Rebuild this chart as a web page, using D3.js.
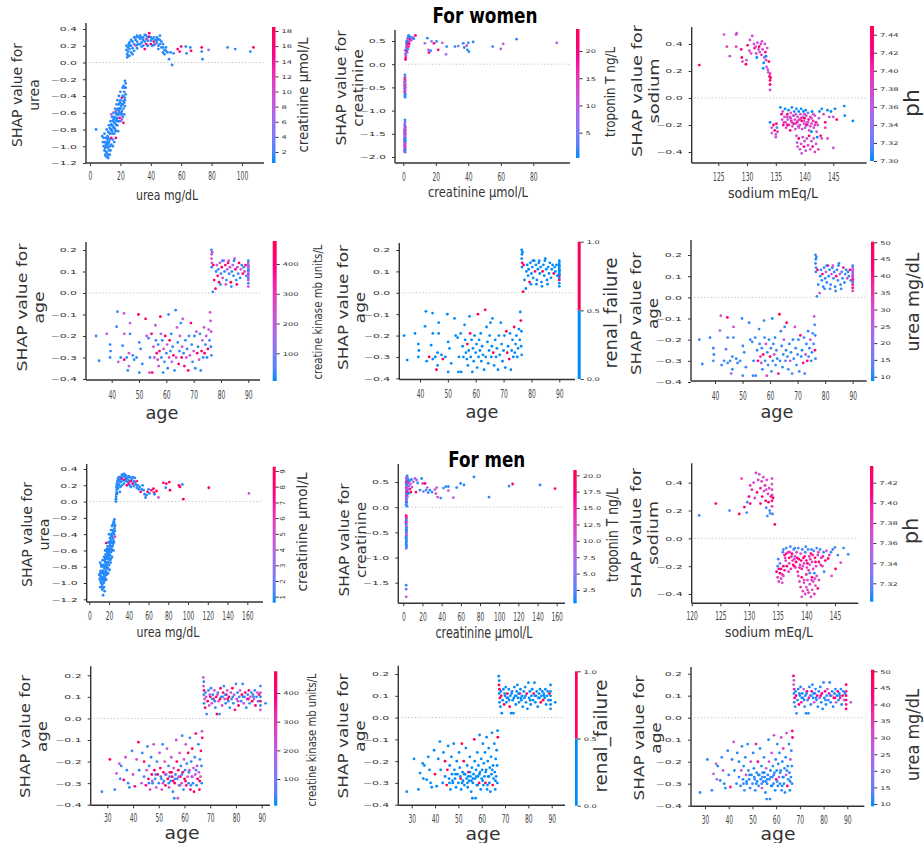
<!DOCTYPE html>
<html><head><meta charset="utf-8">
<script src="https://cdn.jsdelivr.net/npm/d3@7"></script>
<style>body{margin:0;background:#fff}svg{display:block}</style>
</head><body><svg id="c" width="924" height="843"></svg>
<script>
// ---------------- DATA ----------------
// women: [urea, SHAP, creatinine]
const womenUrea = [
[9,-1.0,1],[9.5,-1.05,1],[10,-1.1,1],[10.5,-0.98,1],[11,-1.08,1],[11.5,-1.13,1],[12,-1.02,1],[12,-1.1,1],[10,-0.95,1],[9,-0.9,1],[8.5,-0.95,1],[8,-0.88,1],[9.5,-0.85,1],[10.5,-0.9,1],[11,-0.97,1],[12.5,-0.95,1],[11.5,-0.88,1],[13,-0.92,1],[13,-1.0,1],[12,-0.83,1],[13.5,-0.85,1],[14,-0.9,16],[13,-0.78,1],[14,-0.8,1],[14.5,-0.75,1],[15,-0.85,1],[15,-0.7,1],[15.5,-0.78,1],[16,-0.72,1],[16,-0.65,1],[16.5,-0.8,1],[17,-0.9,15],[17,-0.7,1],[17,-0.6,1],[17.5,-0.68,1],[18,-0.75,1],[18,-0.62,1],[18.5,-0.55,1],[18.5,-0.7,1],[19,-0.6,1],[19,-0.5,1],[19.5,-0.66,15],[19.5,-0.55,1],[20,-0.45,1],[20,-0.62,1],[20.5,-0.52,1],[21,-0.58,1],[21,-0.42,16],[21.5,-0.5,1],[21.5,-0.65,1],[22,-0.4,1],[22,-0.55,1],[22.5,-0.48,1],[22.5,-0.35,1],[23,-0.3,1],[23,-0.45,1],[23.5,-0.25,1],[23.5,-0.38,1],[23,-0.22,1],[22,-0.72,17],[22,-0.28,1],[21.5,-0.3,1],[20,-0.7,1],[14.5,-0.65,1],[15.5,-0.6,1],[16.5,-0.55,1],[17.5,-0.5,1],[18,-0.45,1],[13.5,-0.7,1],[12.5,-0.75,1],[11,-0.8,1],[12,-1.14,1],[10.5,-1.12,1],[4,-0.8,1],[19,-0.4,1],[20,-0.35,1],[16,-0.95,1],[15,-1.0,1],[14,-0.62,9],[17,-0.58,8],[21,-0.68,10],[18.5,-0.82,1],[13.5,-1.05,1],[11.5,-0.92,1],
[9.5,-0.95,1],[10,-1.02,1],[10.5,-1.06,1],[11,-1.0,1],[11.5,-0.95,1],[12,-0.97,1],[12.5,-1.05,1],[13,-0.85,1],[13.5,-0.8,1],[14,-0.74,1],[14.5,-0.82,1],[15,-0.76,1],[15.5,-0.68,1],[16,-0.78,1],[16.5,-0.66,1],[17,-0.74,1],[17.5,-0.62,1],[18,-0.56,1],[18.5,-0.62,1],[19,-0.7,1],[19.5,-0.48,1],[20,-0.55,1],[20.5,-0.6,1],[21,-0.5,1],[21.5,-0.4,1],[22,-0.46,1],[22.5,-0.62,1],[23,-0.52,1],[23.5,-0.3,1],[22.8,-0.42,1],[16,-0.85,1],[15,-0.92,1],[14,-0.98,1],[13,-1.1,1],[12,-0.9,1],[18,-0.66,1],[20,-0.48,1],[17,-0.82,1],[19,-0.58,1],[21,-0.62,1],
[24,0.15,1],[24,0.2,1],[24.5,0.1,1],[24.5,0.06,1],[25,0.18,1],[25,0.13,1],[25.5,0.22,1],[26,0.16,1],[26,0.24,1],[27,0.2,1],[27,0.12,1],[28,0.25,1],[28,0.17,1],[29,0.22,1],[29,0.14,1],[30,0.27,1],[30,0.2,9],[31,0.25,1],[31,0.17,1],[32,0.3,1],[32,0.22,1],[33,0.28,1],[33,0.32,1],[34,0.24,1],[34,0.3,1],[35,0.27,1],[35,0.2,1],[36,0.33,1],[36,0.25,1],[37,0.28,10],[37,0.22,16],[38,0.3,1],[38,0.26,1],[39,0.35,17],[39,0.31,16],[40,0.26,1],[40,0.22,18],[41,0.28,1],[41,0.2,1],[42,0.25,17],[42,0.3,1],[43,0.22,9],[43,0.27,1],[44,0.3,1],[44,0.24,1],[45,0.28,1],[45,0.2,1],[46,0.32,1],[46,0.22,1],[47,0.25,1],[47,0.18,1],[48,0.12,1],[48,0.22,1],[49,0.15,1],[49,0.1,1],[50,0.14,1],[50,0.18,1],[51,0.12,1],[52,0.04,1],[54,-0.03,1],[53,0.12,1],[55,0.11,1],[57.7,0.16,17],[59,0.13,16],[60,0.19,17],[63,0.19,1],[63.5,0.11,1],[66.5,0.14,16],[66,0.18,1],[73.5,0.18,17],[73.5,0.13,1],[74,0.04,1],[78,0.15,6],[90.5,0.18,1],[95.5,0.16,1],[105.5,0.13,1],[107.5,0.18,17],[26,0.08,1],[45,0.16,1],[36,0.16,16],[30,0.3,1],[28,0.1,1],
[25,0.08,1],[26,0.2,1],[27,0.27,1],[29,0.3,1],[31,0.32,1],[33,0.22,1],[35,0.3,1],[37,0.32,1],[38,0.2,1],[40,0.3,1],[42,0.21,1],[44,0.27,1],[46,0.27,1],[48,0.18,1],[34,0.19,1],[31,0.21,1]
];
// women: [creatinine, SHAP, troponin T]
const womenCreatinine = [
[1,-1.2,1],[1.1,-1.25,6],[0.9,-1.3,12],[1,-1.33,1],[1.2,-1.36,18],[0.8,-1.38,8],[1,-1.41,1],[1.1,-1.43,14],[0.9,-1.45,22],[1,-1.47,1],[1.2,-1.49,9],[0.8,-1.5,16],[1,-1.52,5],[1.1,-1.54,20],[0.9,-1.56,11],[1,-1.58,1],[1.2,-1.6,7],[0.8,-1.62,19],[1,-1.64,13],[1.1,-1.66,1],[0.9,-1.68,23],[1,-1.7,8],[1.2,-1.72,15],[0.8,-1.74,1],[1,-1.76,10],[1.1,-1.78,21],[0.9,-1.8,6],[1,-1.82,17],[1.2,-1.84,1],[0.8,-1.86,12],[1,-1.88,20],[1.1,-1.9,5],[1,-1.55,9],[1.1,-1.65,1],[0.9,-1.75,14],[1,-1.85,1],[1.2,-1.4,11],[0.9,-1.6,1],
[1,-0.23,1],[1.1,-0.28,5],[0.9,-0.3,12],[1,-0.33,18],[1.2,-0.36,9],[0.8,-0.38,20],[1,-0.41,14],[1.1,-0.43,7],[0.9,-0.46,22],[1,-0.48,11],[1.2,-0.5,16],[0.8,-0.52,1],[1,-0.55,19],[1.1,-0.57,8],[0.9,-0.6,23],[1,-0.62,13],[1.2,-0.65,1],[1,-0.68,1],[1.1,-0.71,1],[0.9,-0.4,6],[1.1,-0.53,10],
[1.2,0.3,5],[1.3,0.22,1],[1.5,0.14,20],[1.6,0.18,12],[1.8,0.35,8],[2,0.28,20],[2,0.42,1],[2.2,0.38,15],[2.3,0.5,1],[2.5,0.45,20],[2.6,0.55,10],[2.8,0.32,1],[3,0.48,18],[3,0.58,1],[3.2,0.62,1],[3.5,0.52,12],[3.6,0.44,21],[3.8,0.6,1],[4,0.5,8],[4.2,0.55,22],[4.5,0.58,1],[5,0.52,14],[5.5,0.56,6],[6,0.58,9],[6.5,0.55,1],[7.5,0.62,20],[1.4,0.1,20],[2.4,0.25,9],[1.9,0.48,1],[3.3,0.38,17],
[13.3,0.45,8],[14.8,0.56,1],[15.4,0.31,9],[15.8,0.25,21],[16.8,0.29,1],[17.4,0.49,8],[18.9,0.45,20],[20.5,0.49,1],[21.5,0.31,21],[24,0.46,9],[26.3,0.21,8],[26.7,0.38,1],[31.8,0.38,1],[33.8,0.39,6],[36.9,0.45,1],[37.5,0.36,1],[39,0.4,12],[39.4,0.31,1],[40,0.46,1],[40.4,0.27,1],[43,0.48,1],[55,0.38,1],[60,0.33,9],[61.5,0.44,11],[69.7,0.54,1],[94.4,0.46,10]
];
// women: [sodium, SHAP, ph]
const womenSodium = [
[121.7,0.244,7.44],[126,0.47,7.37],[126.5,0.38,7.38],[127,0.31,7.37],[128.1,0.47,7.38],[128.2,0.48,7.37],[128.1,0.38,7.39],[129,0.36,7.42],[129.1,0.3,7.44],[129.2,0.27,7.38],[129.8,0.25,7.44],[129.9,0.28,7.37],[130.1,0.39,7.43],[130.4,0.35,7.38],[130.5,0.43,7.37],[130.9,0.46,7.38],[131.2,0.4,7.37],[131.3,0.37,7.42],[131.6,0.33,7.38],[131.7,0.3,7.30],[131.8,0.41,7.37],[132,0.36,7.38],[132.1,0.38,7.44],[132.2,0.34,7.37],[132.4,0.4,7.38],[132.5,0.32,7.40],[132.6,0.42,7.37],[132.7,0.36,7.38],[132.9,0.26,7.30],[133,0.3,7.36],[133.1,0.4,7.37],[133.2,0.34,7.42],[133.3,0.28,7.38],[133.4,0.23,7.37],[133.5,0.37,7.38],[133.6,0.21,7.38],[133.7,0.19,7.37],[133.8,0.27,7.44],[133.9,0.16,7.42],[134,0.13,7.44],[134,0.1,7.43],[134,0.06,7.38],[134,0.18,7.40],[134.1,0.15,7.45],[131.5,0.38,7.37],[132.8,0.22,7.30],[130.7,0.33,7.38],[133.3,0.31,7.30],
[134,-0.18,7.30],[134.3,-0.22,7.37],[134.3,-0.26,7.36],[134.6,-0.2,7.44],[134.8,-0.24,7.43],[135,-0.27,7.38],[135.1,-0.19,7.42],[135.2,-0.22,7.31],[135.3,-0.25,7.39],[135,-0.29,7.37],
[135.8,-0.07,7.30],[136,-0.12,7.43],[136.1,-0.16,7.38],[136.2,-0.1,7.37],[136.3,-0.2,7.42],[136.5,-0.14,7.36],[136.6,-0.08,7.30],[136.7,-0.18,7.4],[136.8,-0.22,7.38],[137,-0.12,7.44],[137.1,-0.16,7.37],[137.2,-0.09,7.30],[137.3,-0.2,7.39],[137.4,-0.14,7.37],[137.5,-0.24,7.43],[137.6,-0.11,7.38],[137.7,-0.17,7.41],[137.8,-0.07,7.30],[137.9,-0.21,7.37],[138,-0.13,7.38],[138.1,-0.19,7.44],[138.2,-0.1,7.31],[138.3,-0.16,7.39],[138.4,-0.23,7.38],[138.5,-0.12,7.36],[138.6,-0.08,7.30],[138.7,-0.18,7.42],[138.8,-0.14,7.38],[138.9,-0.21,7.37],[139,-0.1,7.30],[139.1,-0.16,7.4],[139.2,-0.2,7.38],[139.3,-0.12,7.37],[139.4,-0.08,7.30],[139.5,-0.17,7.43],[139.6,-0.23,7.38],[139.7,-0.14,7.36],[139.8,-0.1,7.30],[139.9,-0.19,7.38],[140,-0.15,7.44],[140.1,-0.22,7.37],[140.2,-0.09,7.30],[140.3,-0.13,7.39],[140.4,-0.18,7.38],[140.5,-0.2,7.37],[140.6,-0.11,7.31],[140.7,-0.16,7.42],[140.8,-0.24,7.38],[141,-0.14,7.37],[141.2,-0.19,7.38],[141.3,-0.1,7.30],[141.5,-0.17,7.4],[141.6,-0.22,7.37],[141.8,-0.13,7.38],[142,-0.18,7.42],[142.1,-0.25,7.37],[142.3,-0.2,7.38],[142.5,-0.15,7.36],[142.6,-0.1,7.30],
[136.4,-0.18,7.38],[137,-0.2,7.42],[137.6,-0.15,7.38],[138.2,-0.13,7.37],[138.8,-0.17,7.38],[139.4,-0.15,7.40],[140,-0.12,7.38],[140.6,-0.18,7.37],[141.2,-0.15,7.38],[141.8,-0.2,7.39],[137.8,-0.18,7.38],[139.0,-0.22,7.37],[140.3,-0.2,7.42],[141.5,-0.12,7.38],[136.9,-0.14,7.39],[138.5,-0.19,7.38],[139.9,-0.17,7.37],[141,-0.21,7.38],
[143,-0.08,7.30],[143.3,-0.12,7.38],[143.6,-0.18,7.44],[144,-0.09,7.30],[144.3,-0.14,7.37],[144.6,-0.1,7.30],[145,-0.14,7.38],[145.3,-0.08,7.30],[145.6,-0.16,7.44],[146.9,-0.06,7.30],[147,-0.13,7.30],[148.4,-0.17,7.30],[143,-0.3,7.37],[144,-0.3,7.38],[145,-0.37,7.37],[143.6,-0.22,7.38],[142.8,-0.28,7.44],
[138.6,-0.28,7.38],[138.7,-0.33,7.37],[138.8,-0.36,7.38],[139,-0.3,7.44],[139.2,-0.38,7.37],[139.4,-0.34,7.38],[139.5,-0.41,7.37],[139.7,-0.29,7.38],[139.9,-0.36,7.42],[140,-0.32,7.37],[140.2,-0.39,7.38],[140.4,-0.3,7.37],[140.6,-0.35,7.38],[140.8,-0.28,7.44],[141,-0.38,7.37],[141.2,-0.32,7.38],[141.4,-0.36,7.42],[141.6,-0.3,7.37],[141.8,-0.4,7.38],[142,-0.34,7.37],[142.2,-0.29,7.30],[142.4,-0.38,7.38],[141.2,-0.25,7.30]
];
// women: [age, SHAP, creatine kinase mb, renal_failure, urea]
const womenAge = [
[34.3,-0.2,25,0,11],[35.4,-0.315,20,0,10],[38.2,-0.19,210,0,10],[39.4,-0.24,25,0,11],[39.6,-0.27,20,0,10],[39.4,-0.3,30,0,11],[42.1,-0.087,25,0,28],[41.8,-0.157,20,0,25],[42.4,-0.32,220,0,10],[43.3,-0.3,25,1,11],[44.5,-0.095,230,0,45],[44.6,-0.19,240,0,11],[44,-0.245,25,0,13],[44.6,-0.31,420,0,11],[45.5,-0.3,25,0,10],[45.9,-0.36,25,1,24],[46.3,-0.28,250,0,10],[46.3,-0.34,230,0,10],[46.7,-0.14,200,0,30],[46.7,-0.19,25,0,11],[47.7,-0.29,25,0,10],[48.2,-0.31,20,1,10],[49.1,-0.3,30,0,11],[49.8,-0.1,430,0,10],[50.1,-0.23,25,0,10],[50.1,-0.37,20,0,11],[50.6,-0.26,30,0,10],[51.2,-0.33,25,0,11],[52.4,-0.12,440,0,10],[52.8,-0.2,230,0,11],[53.5,-0.21,25,0,10],[53.8,-0.37,260,0,11],[54,-0.3,25,0,10],[54.6,-0.19,410,0,11],[54.8,-0.37,450,0,10],[55.3,-0.25,240,0,11],[55.6,-0.3,220,0,42],[56,-0.15,210,0,10],[56.2,-0.22,25,0,11],[56.5,-0.28,430,0,36],[56.8,-0.31,250,0,28],[57,-0.24,25,1,10],[57.2,-0.34,230,0,10],[57.5,-0.27,420,0,46],[57.8,-0.11,460,0,10],[58,-0.19,200,1,11],[58.2,-0.3,25,0,10],[58.5,-0.22,20,0,28],[58.8,-0.37,20,0,33],[59,-0.26,240,0,10],[59.3,-0.32,25,0,11],[59.6,-0.2,410,0,10],[60,-0.28,25,0,45],[60.3,-0.24,220,0,10],[60.5,-0.35,25,0,11],[60.8,-0.1,30,1,10],[61,-0.3,250,0,11],[61.2,-0.22,440,0,10],[61.5,-0.27,25,0,30],[61.8,-0.19,20,0,10],[62,-0.32,210,0,10],[62.3,-0.25,25,0,11],[62.6,-0.29,430,0,10],[63,-0.36,25,0,40],[63.4,-0.08,20,1,50],[63.6,-0.3,230,0,10],[63.9,-0.16,220,0,11],[64.2,-0.23,25,0,10],[64.5,-0.33,420,0,11],[64.8,-0.27,20,0,10],[65,-0.2,240,0,26],[65.3,-0.14,25,0,10],[65.6,-0.3,450,0,11],[65.8,-0.25,200,0,10],[66,-0.12,250,0,45],[66.3,-0.28,25,1,10],[66.6,-0.34,440,0,11],[67,-0.22,20,0,10],[67.3,-0.3,230,0,28],[67.6,-0.26,25,0,10],[68,-0.36,430,0,11],[68.3,-0.2,25,0,10],[68.6,-0.29,250,0,11],[69,-0.14,420,0,30],[69.3,-0.24,20,0,10],[69.6,-0.32,25,0,10],[70,-0.27,230,0,11],[70.3,-0.2,25,0,10],[70.6,-0.35,20,0,11],[71,-0.18,220,1,44],[71.3,-0.28,430,1,10],[71.6,-0.25,25,0,10],[72,-0.31,240,1,40],[72.3,-0.19,25,0,10],[72.6,-0.36,20,0,11],[72.9,-0.27,440,0,28],[73.2,-0.22,200,0,10],[73.5,-0.3,25,0,45],[73.8,-0.16,250,1,10],[74,-0.28,410,0,11],[74.3,-0.24,25,0,10],[74.6,-0.2,230,0,30],[74.9,-0.3,25,0,10],[75.2,-0.26,450,0,10],[75.5,-0.17,220,0,11],[75.8,-0.22,25,0,11],[76,-0.09,240,0,28],[76.2,-0.13,230,1,10],[76.3,-0.25,25,0,42],[76.4,-0.18,250,0,10],[76.5,-0.29,25,0,10],
[76.5,0.2,25,0,11],[76.6,0.18,230,0,10],[76.5,0.16,250,0,10],[76.7,0.14,220,1,11],[76.6,0.12,25,0,10],[76.8,0.19,240,0,10],[77,0.005,25,1,10],[77.2,0.13,430,1,45],[77.5,0.06,440,0,10],[78,0.02,450,0,30],[78.2,0.1,25,0,10],[78.5,0.13,230,0,11],[78.8,0.08,420,0,10],[79,0.11,25,0,42],[79.3,0.05,440,1,10],[79.6,0.14,210,0,11],[80,0.09,25,0,10],[80.3,0.12,430,0,28],[80.6,0.07,250,0,10],[81,0.15,220,0,44],[81.3,0.1,25,1,10],[81.6,0.13,440,0,10],[82,0.06,20,0,11],[82.3,0.11,230,0,30],[82.6,0.14,410,0,10],[83,0.09,25,0,10],[83.3,0.12,240,0,11],[83.6,0.05,450,0,10],[84,0.1,25,1,45],[84.3,0.13,230,0,10],[84.6,0.08,20,0,11],[85,0.16,220,0,10],[85.3,0.11,430,0,28],[85.6,0.06,25,0,10],[86,0.12,240,0,11],[86.3,0.09,25,0,10],[86.6,0.14,440,0,40],[87,0.07,20,0,10],[87.3,0.11,230,0,11],[87.6,0.13,25,0,10],[88,0.09,420,1,30],[88.3,0.12,25,0,10],[88.6,0.1,250,0,11],[89,0.13,430,0,45],[89.3,0.08,25,0,10],[79.8,0.04,25,0,10],[81.8,0.04,230,0,11],[83.8,0.03,25,0,10],[85.8,0.04,420,0,10],[80.5,0.15,25,0,11],[82.8,0.15,240,0,30],[84.8,0.15,25,0,10],
[90,0.03,230,0,30],[90,0.045,25,0,45],[90,0.06,250,1,40],[90,0.07,25,0,10],[90,0.08,220,1,35],[90,0.09,25,0,28],[90,0.1,230,0,33],[90,0.11,25,0,30],[90,0.12,240,0,11],[90,0.13,25,0,28],[90,0.14,210,0,25],[90,0.15,25,0,10],[90,0.085,230,0,38],[90,0.105,25,0,30],[90,0.125,220,0,26]
];
// men: [urea, SHAP, creatinine]
const menUrea = [
[10,-0.9,0.8],[10.5,-0.95,0.8],[11,-1.05,0.8],[11,-0.75,0.8],[11.5,-0.85,0.8],[12,-0.92,0.8],[12,-1.0,0.8],[12.5,-0.8,0.8],[13,-0.88,0.8],[13,-1.08,0.8],[13.5,-0.95,0.8],[13.5,-0.72,0.8],[14,-0.85,0.8],[14,-1.15,0.8],[14.5,-0.78,0.8],[14.5,-1.0,0.8],[15,-0.9,0.8],[15,-0.68,0.8],[15.5,-0.82,0.8],[15.5,-1.1,0.8],[16,-0.74,0.8],[16,-0.95,0.8],[16.5,-0.65,0.8],[16.5,-0.86,0.8],[17,-0.51,8.5],[17,-0.78,0.8],[17,-0.6,0.8],[17.5,-0.7,0.8],[17.5,-0.9,0.8],[18,-0.62,0.8],[18,-0.82,0.8],[18.5,-0.55,0.8],[18.5,-0.74,0.8],[19,-0.66,0.8],[19,-0.88,0.8],[19.5,-0.58,0.8],[19.5,-0.78,0.8],[20,-0.5,0.8],[20,-0.7,0.8],[20.5,-0.62,0.8],[20.5,-0.84,0.8],[21,-0.45,0.8],[21,-0.66,0.8],[21.5,-0.55,0.8],[21.5,-0.75,0.8],[22,-0.48,0.8],[22,-0.62,0.8],[22.5,-0.4,0.8],[22.5,-0.58,0.8],[23,-0.5,0.8],[23,-0.68,0.8],[23.5,-0.35,0.8],[23.5,-0.55,0.8],[24,-0.28,0.8],[24,-0.45,0.8],[24.5,-0.38,0.8],[24.5,-0.6,0.8],[25,-0.25,0.8],[25,-0.5,0.8],[25.5,-0.33,0.8],[25.5,-0.22,0.8],[26,-0.43,6],[26,-0.3,0.8],[12.5,-0.97,0.8],[14,-0.93,0.8],[15,-0.8,0.8],[16,-0.7,0.8],[18,-0.7,0.8],[19,-0.5,0.8],[20,-0.6,0.8],[21,-0.58,0.8],[22,-0.7,0.8],[23,-0.42,0.8],[24,-0.52,0.8],[17,-0.96,0.8],[13,-0.78,0.8],[11.5,-0.98,0.8],[18,-0.58,0.8],[20,-0.4,0.8],[22,-0.35,0.8],[24.5,-0.25,0.8],[16,-0.6,0.8],[14.5,-0.88,0.8],[19.5,-0.68,0.8],[21.5,-0.48,0.8],[23,-0.3,0.8],
[11.5,-0.92,0.8],[12,-0.86,0.8],[12.5,-1.05,0.8],[13,-0.95,0.8],[13.5,-0.85,0.8],[14,-0.78,0.8],[14.5,-0.95,0.8],[15,-0.98,0.8],[15.5,-0.72,0.8],[16,-0.82,0.8],[16.5,-0.75,0.8],[17,-0.68,0.8],[17.5,-0.8,0.8],[18,-0.75,0.8],[18.5,-0.65,0.8],[19,-0.75,0.8],[19.5,-0.62,0.8],[20,-0.78,0.8],[20.5,-0.55,0.8],[21,-0.72,0.8],[21.5,-0.62,0.8],[22,-0.55,0.8],[22.5,-0.5,0.8],[23,-0.6,0.8],[23.5,-0.45,0.8],[24,-0.38,0.8],[24.5,-0.48,0.8],[25,-0.4,0.8],[25.5,-0.28,0.8],[26,-0.36,0.8],[13,-1.02,0.8],[14,-1.06,0.8],[15,-1.05,0.8],[16,-0.88,0.8],[17,-0.85,0.8],[18,-0.88,0.8],[19,-0.82,0.8],[20,-0.65,0.8],[21,-0.52,0.8],[22,-0.42,0.8],[12,-0.78,0.8],[11,-0.88,0.8],[15.5,-0.92,0.8],[16.5,-0.95,0.8],[18.5,-0.6,0.8],
[27,0.0,0.8],[27,0.03,0.8],[27.2,0.06,0.8],[27.4,0.09,0.8],[27.6,0.12,0.8],[27.8,0.15,0.8],[27.5,0.18,0.8],[27.9,0.22,0.8],[28.2,0.2,0.8],[28.5,0.25,0.8],[28.2,0.1,0.8],[28.8,0.17,0.8],[29,0.28,0.8],[29.5,0.22,0.8],[30,0.3,0.8],[30,0.2,0.8],[30.5,0.25,0.8],[31,0.27,0.8],[31.5,0.18,0.8],[32,0.3,0.8],[32,0.24,0.8],[33,0.28,8.5],[33,0.2,0.8],[34,0.32,0.8],[34,0.26,0.8],[35,0.34,0.8],[35,0.22,0.8],[36,0.3,0.8],[36,0.27,8],[37,0.25,0.8],[37,0.32,0.8],[38,0.28,0.8],[38,0.2,8.8],[39,0.3,0.8],[39,0.24,0.8],[40,0.26,0.8],[40,0.22,7.5],[41,0.3,0.8],[41,0.2,0.8],[42,0.25,9],[42,0.18,0.8],[43,0.28,0.8],[44,0.22,8.2],[44,0.3,0.8],[45,0.25,0.8],[45,0.19,0.8],[46,0.24,0.8],[46,0.29,0.8],[47,0.21,0.8],[48,0.17,0.8],[48,0.25,7],[49,0.2,0.8],[50,0.15,0.8],[31,0.12,0.8],[29,0.16,0.8],[33,0.33,0.8],[36,0.33,0.8],[40,0.31,0.8],
[51,0.18,0.8],[52,0.12,8],[53,0.15,0.8],[55,0.14,0.8],[56,0.09,0.8],[57,0.05,0.8],[58,0.08,0.8],[59,0.12,8.5],[61,0.1,0.8],[63,0.14,9],[65,0.16,8.8],[65.5,0.11,8.5],[66,0.09,0.8],[70,0.05,5],[75,0.23,8.5],[77.4,0.17,0.8],[78,0.22,8.8],[81,0.24,9],[81.7,0.14,8.6],[90.8,0.2,8.7],[91.8,0.18,9],[94.2,0.21,0.8],[95.2,0.03,9],[121,0.17,8.8],[161.7,0.1,4.5],[54,0.2,0.8],[60,0.15,0.8],[68,0.13,8.2]
];
// men: [creatinine, SHAP, troponin T]
const menCreatinine = [
[3,0.05,1],[3.2,0.09,1],[3,0.12,5],[3.3,0.15,14],[3.1,0.18,1],[3,0.21,8],[3.4,0.24,18],[3.2,0.27,1],[3,0.3,12],[3.5,0.33,6],[3.3,0.36,1],[3,0.39,16],[3.6,0.42,5],[3.2,0.45,9],[3,0.48,1],[3.4,0.51,20],[3.7,0.54,1],[3.1,0.57,11],[3.5,0.6,1],[4,0.62,1],[4.2,0.58,7],[4.5,0.5,15],[4,0.44,1],[4.4,0.38,10],[4.1,0.31,19],[4.6,0.26,1],[4.3,0.2,6],[5,0.55,1],[5.5,0.48,13],[6,0.42,5],[6.5,0.52,1],[7,0.36,17],[7.5,0.46,8],[8,0.3,20],[8.5,0.55,1],[9,0.4,12],[5,0.35,9],[6,0.28,1],[3.5,0.1,1],[3.8,0.02,1],
[10.4,0.5,10],[12.2,0.57,9],[13.9,0.54,6],[13.2,0.3,19],[17.4,0.34,1],[19.1,0.57,1],[20.2,0.47,10],[20.9,0.31,5],[22.6,0.47,18],[23.7,0.34,1],[25,0.39,8],[26,0.29,1],[27.8,0.34,1],[33,0.35,10],[34,0.27,12],[34.8,0.39,9],[35.8,0.2,11],[39,0.18,1],[44.5,0.41,1],[47,0.33,9],[47,0.41,1],[52.2,0.19,9],[55.7,0.39,1],[59.8,0.47,1],[63.3,0.44,1],[73.7,0.6,1],[89.4,0.2,1],[110.3,0.42,1],[114,0.46,19],[142.6,0.44,1],[158.3,0.37,18],[15,0.48,1],[30,0.3,1],[42,0.38,1],
[3,-0.17,19],[3.1,-0.2,16],[3.2,-0.23,12],[3,-0.26,1],[3.3,-0.29,8],[3.1,-0.32,5],[3,-0.35,1],[3.2,-0.38,9],[3.4,-0.41,1],[3,-0.44,6],[3.1,-0.47,1],[3.3,-0.5,1],[3,-0.53,7],[3.2,-0.56,1],[3.1,-0.59,1],[3,-0.62,5],[3.3,-0.65,1],[3.2,-0.68,1],[3,-0.71,1],[3.1,-0.74,1],[3.3,-0.77,1],[3.2,-0.8,1],[3,-0.82,5],[3.4,-0.55,10],[3.3,-0.45,1],[2.8,-0.6,1],[2.8,-0.3,14],
[3,-1.55,1],[3,-1.63,5],[3,-1.78,9]
];
// men: [sodium, SHAP, ph]
const menSodium = [
[121.3,0.165,7.31],[124.2,0.25,7.43],[126.6,0.2,7.31],[128.3,0.175,7.43],[128.7,0.43,7.38],[129.2,0.225,7.43],[129.6,0.185,7.31],[129.7,0.26,7.31],[130.2,0.25,7.43],[130.2,0.38,7.38],[130.5,0.35,7.39],[130.8,0.4,7.37],[131.2,0.47,7.38],[131.4,0.33,7.42],[131.6,0.42,7.38],[131.8,0.46,7.37],[132,0.36,7.40],[132.2,0.41,7.38],[132.3,0.3,7.42],[132.5,0.44,7.37],[132.6,0.34,7.38],[132.8,0.38,7.39],[132.9,0.27,7.43],[133,0.22,7.31],[133.1,0.42,7.37],[133.2,0.16,7.31],[133.3,0.32,7.38],[133.4,0.26,7.42],[133.5,0.36,7.38],[133.6,0.2,7.31],[133.7,0.18,7.31],[133.8,0.3,7.40],[134,0.43,7.38],[134,0.39,7.37],[134,0.35,7.38],[134,0.31,7.39],[134,0.27,7.42],[134,0.23,7.38],[134.1,0.175,7.31],[134.2,0.29,7.43],[134.5,0.1,7.43],[131,0.29,7.38],[132,0.25,7.42],[133,0.35,7.37],[130,0.3,7.41],
[134.8,-0.24,7.41],[135,-0.2,7.31],[135,-0.28,7.39],[135.2,-0.22,7.42],[135.2,-0.31,7.38],[135.4,-0.25,7.43],[135.4,-0.18,7.31],[135.6,-0.29,7.38],[135.6,-0.22,7.41],[135.8,-0.26,7.39],[135.8,-0.32,7.37],[136,-0.2,7.43],[136,-0.27,7.38],[136.2,-0.23,7.40],[135.1,-0.15,7.31],
[136,-0.08,7.31],[136.2,-0.12,7.42],[136.4,-0.16,7.38],[136.5,-0.07,7.31],[136.6,-0.2,7.41],[136.8,-0.1,7.37],[137,-0.14,7.43],[137,-0.18,7.38],[137.2,-0.06,7.31],[137.3,-0.22,7.39],[137.5,-0.11,7.42],[137.6,-0.16,7.38],[137.8,-0.08,7.31],[137.9,-0.2,7.41],[138,-0.13,7.37],[138.2,-0.17,7.43],[138.3,-0.1,7.38],[138.5,-0.24,7.39],[138.6,-0.07,7.31],[138.7,-0.15,7.42],[138.9,-0.19,7.38],[139,-0.11,7.37],[139.2,-0.22,7.40],[139.3,-0.08,7.31],[139.5,-0.14,7.43],[139.6,-0.18,7.38],[139.8,-0.1,7.31],[140,-0.16,7.41],[140.1,-0.21,7.38],[140.3,-0.08,7.31],[140.5,-0.13,7.39],[140.6,-0.19,7.37],[140.8,-0.11,7.42],[141,-0.17,7.38],[141.2,-0.22,7.38],[141.3,-0.09,7.31],[141.5,-0.14,7.43],[141.7,-0.2,7.37],[142,-0.12,7.38],[142.2,-0.17,7.42],[142.4,-0.08,7.31],[142.6,-0.14,7.39],[142.8,-0.2,7.38],[143,-0.1,7.31],[143.1,-0.24,7.31],[143.3,-0.16,7.42],[143.5,-0.09,7.37],[143.8,-0.145,7.43],[144,-0.12,7.38],[144.3,-0.1,7.31],[144.4,-0.27,7.37],[144.6,-0.08,7.31],[145,-0.065,7.31],[145.1,-0.22,7.43],[145.5,-0.12,7.31],[146,-0.175,7.37],[146.5,-0.07,7.31],[147.3,-0.115,7.31],[137.4,-0.13,7.39],[138.8,-0.21,7.40],[140.4,-0.23,7.39],[136.9,-0.24,7.38],[139.9,-0.06,7.31],[141.8,-0.07,7.31],
[136.5,-0.11,7.40],[137.1,-0.1,7.39],[137.7,-0.19,7.42],[138.1,-0.21,7.38],[138.4,-0.14,7.41],[139.1,-0.16,7.42],[139.7,-0.13,7.40],[140.2,-0.18,7.43],[140.7,-0.15,7.38],[141.1,-0.12,7.40],[141.6,-0.17,7.41],[142.1,-0.1,7.38],[142.5,-0.19,7.39],[137.9,-0.15,7.38],[139.4,-0.2,7.37],[136.3,-0.14,7.38],[135.9,-0.1,7.31],[138,-0.07,7.31],[140.9,-0.08,7.31],[142.9,-0.13,7.40],
[138.6,-0.27,7.38],[138.8,-0.31,7.37],[139,-0.35,7.39],[139.2,-0.28,7.42],[139.4,-0.38,7.38],[139.6,-0.32,7.37],[139.8,-0.4,7.38],[140,-0.26,7.40],[140,-0.35,7.37],[140.2,-0.3,7.38],[140.4,-0.39,7.39],[140.6,-0.33,7.37],[140.8,-0.42,7.38],[141,-0.28,7.42],[141,-0.37,7.37],[141.2,-0.31,7.38],[141.4,-0.4,7.39],[141.6,-0.34,7.37],[141.8,-0.27,7.38],[142,-0.36,7.42],[142.2,-0.3,7.38],[139.2,-0.42,7.37],[140.6,-0.25,7.31],[141.4,-0.25,7.31],[139.6,-0.3,7.38],[140.9,-0.3,7.37],[140.2,-0.37,7.38],[141.5,-0.29,7.38]
];
// men: [age, SHAP, creatine kinase mb, renal_failure, urea]
const menAge = [
[27.9,-0.34,25,0,10],[31,-0.19,430,0,10],[32.9,-0.33,25,0,10],[33.6,-0.255,240,0,25],[34.7,-0.21,230,0,28],[35,-0.28,25,0,24],[35.4,-0.22,25,0,10],[36.4,-0.285,420,0,10],[37.1,-0.18,240,0,11],[37.6,-0.24,25,0,26],[38.1,-0.3,25,0,10],[38.6,-0.32,20,0,10],[39.6,-0.15,25,0,10],[40,-0.26,230,1,11],[40.7,-0.315,430,0,40],[41.4,-0.19,250,0,10],[42.1,-0.11,440,0,30],[42.4,-0.24,25,0,10],[43.3,-0.3,220,0,10],[43.6,-0.16,25,0,11],[44.3,-0.2,450,1,10],[44.3,-0.27,25,0,10],[45,-0.31,430,1,10],[45.3,-0.24,230,1,26],[45.6,-0.13,25,0,11],[46,-0.28,440,0,10],[46.3,-0.22,25,0,10],[46.6,-0.33,250,0,11],[47,-0.18,25,0,10],[47.3,-0.26,420,0,28],[47.6,-0.3,25,0,10],[48,-0.12,230,0,10],[48.3,-0.24,450,0,11],[48.6,-0.28,25,0,10],[49,-0.32,240,0,10],[49.3,-0.2,25,0,30],[49.6,-0.26,430,0,10],[50,-0.3,25,0,11],[50.3,-0.16,220,0,10],[50.6,-0.23,440,0,10],[51,-0.28,25,1,11],[51.2,-0.33,250,0,10],[51.5,-0.12,25,1,40],[51.8,-0.25,430,0,10],[52,-0.29,25,0,10],[52.3,-0.2,240,1,45],[52.6,-0.31,450,0,11],[52.9,-0.26,25,0,10],[53.2,-0.14,230,0,10],[53.5,-0.28,440,0,11],[53.8,-0.22,25,0,10],[54,-0.32,250,0,28],[54.3,-0.25,430,1,10],[54.6,-0.29,25,0,10],[54.9,-0.18,220,0,11],[55.2,-0.27,450,0,10],[55.5,-0.34,25,0,10],[55.8,-0.23,240,0,26],[56,-0.37,25,0,10],[56.2,-0.3,430,0,11],[56.5,-0.26,25,0,10],[56.8,-0.1,250,1,10],[57,-0.2,440,0,30],[57.2,-0.28,25,0,11],[57.4,-0.37,230,0,10],[57.6,-0.24,450,0,10],[57.9,-0.31,25,0,10],[58.1,-0.16,220,0,28],[58.4,-0.27,430,0,11],[58.6,-0.22,25,0,10],[58.9,-0.3,250,1,10],[59.1,-0.08,25,0,30],[59.3,-0.25,440,0,11],[59.6,-0.33,25,0,10],[59.8,-0.19,230,0,10],[60,-0.28,450,0,42],[60.2,-0.24,25,0,10],[60.5,-0.12,240,0,11],[60.7,-0.31,430,0,10],[60.9,-0.21,25,0,10],[61.2,-0.27,220,0,28],[61.4,-0.16,440,0,11],[61.6,-0.3,25,1,10],[61.9,-0.24,250,0,10],[62.1,-0.09,25,0,30],[62.3,-0.33,430,0,11],[62.6,-0.2,25,0,10],[62.8,-0.27,240,0,10],[63,-0.14,450,0,33],[63.3,-0.3,25,0,10],[63.5,-0.23,230,0,11],[63.7,-0.34,440,0,10],[64,-0.18,25,0,10],[64.2,-0.26,220,0,28],[64.4,-0.07,430,0,30],[64.7,-0.31,25,1,45],[64.9,-0.22,250,0,10],[65.1,-0.28,440,0,10],[65.4,-0.12,25,0,11],[65.6,-0.25,230,0,10],[65.8,-0.33,450,0,10],[66,-0.19,25,0,28],[66.2,-0.27,240,0,10],[66.4,-0.15,430,0,11],[66.6,-0.22,25,0,10],[66.8,-0.06,220,0,45],[66.9,-0.09,440,1,42],[66.7,-0.3,25,0,10],
[50.8,-0.27,25,0,10],[52.5,-0.26,230,0,10],[53.9,-0.3,25,0,11],[55,-0.25,440,0,10],[56.3,-0.28,25,0,10],[57.7,-0.27,250,0,10],[59,-0.26,25,0,11],[60.4,-0.29,430,0,10],[61.7,-0.25,25,0,10],[63.1,-0.27,240,0,10],[64.5,-0.24,25,0,11],[65.9,-0.29,450,0,10],[48.8,-0.26,25,0,10],[47.5,-0.29,230,0,10],[46.2,-0.3,25,0,11],[58.3,-0.31,220,0,10],[62.5,-0.31,25,0,10],[55.6,-0.29,430,0,10],[54.2,-0.27,25,0,11],[51.6,-0.3,240,0,10],
[67.3,0.19,230,0,45],[67.5,0.17,25,0,30],[67.4,0.15,250,1,28],[67.6,0.13,440,1,40],[67.5,0.11,25,0,10],[67.8,0.09,230,1,45],[67.6,0.07,25,0,10],[68,0.05,430,0,11],[68.2,0.12,25,0,10],[68.4,0.1,240,1,42],[68.6,0.02,25,0,10],[69,0.08,440,0,10],[69.3,0.13,25,0,10],[69.6,0.06,230,1,45],[70,0.1,430,0,10],[70.3,0.14,25,0,10],[70.6,0.07,250,0,40],[71,0.11,25,1,10],[71.3,0.09,440,0,10],[71.6,0.13,230,0,28],[72,0.05,25,1,11],[72.3,0.1,430,0,10],[72.6,0.02,450,0,10],[73,0.12,25,0,45],[73.3,0.08,240,0,10],[73.6,0.02,25,0,10],[74,0.14,440,0,10],[74.3,0.1,25,0,28],[74.6,0.06,230,0,10],[75,0.12,430,0,42],[75.3,0.15,25,0,10],[75.6,0.09,250,0,10],[76,0.07,25,0,30],[76.3,0.11,440,1,10],[76.6,0.13,230,0,11],[77,0.08,25,0,10],[77.3,0.1,430,0,45],[77.6,0.05,25,0,10],[78,0.12,240,0,10],[78.3,0.09,25,0,28],[78.6,0.14,440,0,10],[79,0.07,25,0,10],[79.3,0.11,230,1,42],[79.6,0.04,430,0,10],[80,0.16,25,0,11],[80.3,0.09,250,0,10],[80.6,0.12,25,0,45],[81,0.06,440,0,10],[81.3,0.1,25,0,10],[81.6,0.13,230,0,28],[82,0.08,25,0,10],[82.3,0.11,430,1,40],[82.6,0.16,25,0,10],[83,0.07,240,0,10],[83.3,0.1,25,0,30],[83.6,0.12,440,0,10],[84,0.05,25,0,10],[84.3,0.09,230,0,45],[84.6,0.11,25,0,10],[85,0.13,430,0,10],[85.3,0.07,25,1,28],[85.6,0.1,250,0,10],[86,0.12,25,0,42],[86.3,0.08,440,1,10],[86.6,0.11,25,0,10],[87,0.09,230,0,40],[87.3,0.13,25,0,10],[87.6,0.06,430,0,10],[88,0.1,25,0,45],[88.3,0.12,240,0,10],[88.6,0.08,25,0,28],[89,0.11,440,1,10],[89.5,0.15,25,0,45],[89.5,0.12,230,0,40],[89.5,0.1,25,0,45],[89.5,0.08,430,0,42],[89.5,0.06,25,0,40],[89.5,0.04,240,0,45],[91.5,0.07,25,0,30],
[70.8,0.09,25,0,10],[72.8,0.11,230,0,10],[74.8,0.1,25,0,11],[76.8,0.09,440,0,10],[78.8,0.1,25,0,42],[80.8,0.08,230,0,10],[82.8,0.1,25,0,10],[84.8,0.09,430,0,45],[86.8,0.1,25,0,10],[69.8,0.11,240,0,10],[71.8,0.08,25,0,10],[73.8,0.09,450,0,40],[75.8,0.11,25,0,10]
];

// tick values
const ticksShapUrea = [-1.2,-1.0,-0.8,-0.6,-0.4,-0.2,0.0,0.2,0.4];
const ticksShapCreatWomen = [-2.0,-1.5,-1.0,-0.5,0.0,0.5];
const ticksShapCreatMen = [-1.5,-1.0,-0.5,0.0,0.5];
const ticksShapSodium = [-0.4,-0.2,0.0,0.2,0.4];
const ticksShapAge = [-0.4,-0.3,-0.2,-0.1,0.0,0.1,0.2];
const ticksUreaWomen = [0,20,40,60,80,100];
const ticksCreatWomen = [0,20,40,60,80];
const ticksSodiumWomen = [125,130,135,140,145];
const ticksAgeWomen = [40,50,60,70,80,90];
const ticksUreaMen = [0,20,40,60,80,100,120,140,160];
const ticksCreatMen = [0,20,40,60,80,100,120,140,160];
const ticksSodiumMen = [120,125,130,135,140,145];
const ticksAgeMen = [30,40,50,60,70,80,90];
const cbTicksCreatWomen = [2,4,6,8,10,12,14,16,18];
const cbTicksTropWomen = [5,10,15,20];
const cbTicksPhWomen = [7.30,7.32,7.34,7.36,7.38,7.40,7.42,7.44];
const cbTicksCkmb = [100,200,300,400];
const cbTicksRenal = [0,0.5,1.0];
const cbTicksUrea = [10,15,20,25,30,35,40,45,50];
const cbTicksCreatMen = [1,2,3,4,5,6,7,8,9];
const cbTicksTropMen = [2.5,5,7.5,10,12.5,15,17.5,20];
const cbTicksPhMen = [7.32,7.34,7.36,7.38,7.40,7.42];

// ---------------- DRAWING ----------------
const svg = d3.select("#c");
const defs = svg.append("defs");
const BLUE = "#008bfb", RED = "#ff0052";
const interp = d3.interpolateHcl(BLUE, RED);
const FONT = "DejaVu Sans";
const DOT_R = 1.4;
const YLAB_FS = 14.5;
const lin = a => d3.scaleLinear().domain([a[0], a[2]]).range([a[1], a[3]]);

function rotText(g, txt, x, y, size, len, fill) {
  const t = g.append("text").attr("transform", `translate(${x},${y}) rotate(-90)`)
    .attr("text-anchor", "middle").attr("dominant-baseline", "central")
    .attr("font-family", FONT).attr("font-size", size).attr("fill", fill || "#333").text(txt);
  if (len) t.attr("textLength", len).attr("lengthAdjust", "spacingAndGlyphs");
  return t;
}

function drawPanel(p, data, ci, idx) {
  const g = svg.append("g");
  const x = lin(p.xa), y = lin(p.ya);
  const cb = p.cb, cy = lin(cb.a);
  const vmin = cy.invert(cb.b), vmax = cy.invert(cb.t);
  const col = cb.binary ? (v => v >= 0.5 ? RED : BLUE)
    : (v => interp(Math.max(0, Math.min(1, (v - vmin) / (vmax - vmin)))));

  g.append("line").attr("x1", p.l + 3).attr("x2", p.r).attr("y1", y(0)).attr("y2", y(0))
    .attr("stroke", "#bbb").attr("stroke-width", 0.9).attr("stroke-dasharray", "1.2,2.2");

  g.append("g").selectAll("circle").data(data).join("circle")
    .attr("cx", d => x(d[0])).attr("cy", d => y(d[1])).attr("r", DOT_R)
    .attr("fill", d => col(d[ci]));

  // x axis
  const gx = g.append("g").attr("transform", `translate(0,${p.b})`)
    .call(d3.axisBottom(x).tickValues(p.xt).tickSize(3).tickSizeOuter(0).tickFormat(d3.format("d")));
  gx.select(".domain").remove();
  gx.selectAll(".tick line").attr("stroke", "#333");
  const sx = 3.8 / (0.636 * p.xf);
  gx.selectAll(".tick text").attr("font-family", FONT).attr("font-size", p.xf).attr("fill", "#444")
    .attr("y", 0).attr("dy", "0.36em").attr("transform", `translate(0,${p.xo}) scale(${sx},1)`);

  // y axis
  const gy = g.append("g").attr("transform", `translate(${p.l},0)`)
    .call(d3.axisLeft(y).tickValues(p.yt).tickSize(3).tickSizeOuter(0).tickFormat(d3.format(".1f")));
  gy.select(".domain").remove();
  gy.selectAll(".tick line").attr("stroke", "#333");
  const sy = 2.1;
  gy.selectAll(".tick text").attr("font-family", FONT).attr("font-size", 5.2).attr("fill", "#333")
    .attr("x", -9 / sy).attr("dy", "0.36em").attr("text-anchor", "end").attr("transform", `scale(${sy},1)`);

  // spines
  g.append("line").attr("x1", p.l).attr("x2", p.l).attr("y1", p.t).attr("y2", p.b)
    .attr("stroke", "#333").attr("stroke-width", 1.4);
  g.append("line").attr("x1", p.l).attr("x2", p.r).attr("y1", p.b).attr("y2", p.b)
    .attr("stroke", "#333").attr("stroke-width", 1.4);

  // colorbar
  if (cb.binary) {
    g.append("rect").attr("x", cb.x).attr("width", cb.w).attr("y", cy(0.5)).attr("height", cb.b - cy(0.5)).attr("fill", BLUE);
    g.append("rect").attr("x", cb.x).attr("width", cb.w).attr("y", cb.t).attr("height", cy(0.5) - cb.t).attr("fill", RED);
  } else {
    const gr = defs.append("linearGradient").attr("id", "grad" + idx)
      .attr("x1", 0).attr("y1", 1).attr("x2", 0).attr("y2", 0);
    d3.range(0, 1.0001, 0.1).forEach(s => gr.append("stop").attr("offset", s).attr("stop-color", interp(s)));
    g.append("rect").attr("x", cb.x).attr("width", cb.w).attr("y", cb.t).attr("height", cb.b - cb.t)
      .attr("fill", `url(#grad${idx})`);
  }
  const gc = g.append("g").attr("transform", `translate(${cb.x + cb.w},0)`)
    .call(d3.axisRight(cy).tickValues(cb.ticks).tickSize(3).tickSizeOuter(0).tickFormat(d3.format(cb.fmt)));
  gc.select(".domain").remove();
  gc.selectAll(".tick line").attr("stroke", "#333");
  if (cb.rot) {
    gc.selectAll(".tick text").attr("font-family", FONT).attr("font-size", 7).attr("fill", "#444")
      .attr("x", 0).attr("dy", 0).attr("text-anchor", "middle").attr("dominant-baseline", "central")
      .attr("transform", "translate(7,0) rotate(-90)");
  } else {
    const sc = 1.6;
    gc.selectAll(".tick text").attr("font-family", FONT).attr("font-size", 5.2).attr("fill", "#333")
      .attr("x", 6 / sc).attr("dy", "0.36em").attr("text-anchor", "start").attr("transform", `scale(${sc},1)`);
  }
  rotText(g, cb.label, cb.lx, cb.ly, cb.ls, cb.ll);

  // y-axis title (two lines), stretched along the text like the reference
  const lines = p.ylab.map(([txt, lx]) => rotText(g, txt, lx, p.ylc, YLAB_FS));
  const f = p.yll / lines[0].node().getComputedTextLength();
  lines.forEach(t => t.attr("textLength", t.node().getComputedTextLength() * f).attr("lengthAdjust", "spacingAndGlyphs"));

  // x-axis title
  g.append("text").attr("x", p.xl[1]).attr("y", p.xl[2]).attr("text-anchor", "middle")
    .attr("dominant-baseline", "central").attr("font-family", FONT).attr("font-size", p.xl[3])
    .attr("fill", "#333").attr("textLength", p.xl[4]).attr("lengthAdjust", "spacingAndGlyphs").text(p.xl[0]);
}

const panels = [
 {data: womenUrea, ci: 2, xa:[0,90,100,242], ya:[0.4,29,-1.2,163], l:86, r:264, t:23, b:163, xt: ticksUreaWomen, yt: ticksShapUrea, xf:12, xo:12.7,
  cb:{x:272, w:3.5, t:27, b:163, a:[18,31,2,152], ticks: cbTicksCreatWomen, fmt:"d", label:"creatinine μmol/L", lx:303, ly:95, ls:14, ll:115},
  ylab:[["SHAP value for",17],["urea",34]], ylc:95, yll:104, xl:["urea mg/dL",167,195,14,62]},
 {data: womenCreatinine, ci: 2, xa:[0,403.3,80,533.3], ya:[0.5,41,-2.0,157], l:395, r:570, t:30, b:163, xt: ticksCreatWomen, yt: ticksShapCreatWomen, xf:12, xo:14,
  cb:{x:576, w:3.5, t:29, b:158, a:[20,51,5,132.7], ticks: cbTicksTropWomen, fmt:"d", label:"troponin T ng/L", lx:610, ly:92, ls:14, ll:90},
  ylab:[["SHAP value for",341],["creatinine",358]], ylc:88, yll:115, xl:["creatinine μmol/L",478,192,14,100]},
 {data: womenSodium, ci: 2, xa:[125,718.3,145,833.3], ya:[0.4,44,-0.4,152], l:691.7, r:866.7, t:27, b:163, xt: ticksSodiumWomen, yt: ticksShapSodium, xf:12, xo:13.7,
  cb:{x:870, w:4, t:26, b:161, a:[7.44,34.7,7.30,161], ticks: cbTicksPhWomen, fmt:".2f", label:"ph", lx:911, ly:103, ls:22},
  ylab:[["SHAP value for",637],["sodium",654]], ylc:91, yll:132, xl:["sodium mEq/L",773,193,14,90]},
 {data: womenAge, ci: 2, xa:[40,111.7,90,248.3], ya:[0.2,250,-0.4,379], l:86, r:260, t:242, b:380, xt: ticksAgeWomen, yt: ticksShapAge, xf:13, xo:14,
  cb:{x:272.7, w:4, t:241, b:381, a:[400,264,100,353.3], ticks: cbTicksCkmb, fmt:"d", label:"creatine kinase mb units/L", lx:317, ly:312, ls:13, ll:135},
  ylab:[["SHAP value for",21.5],["age",38.5]], ylc:307.5, yll:128, xl:["age",162,412,18,33]},
 {data: womenAge, ci: 3, xa:[40,420,90,559.3], ya:[0.2,250,-0.4,378.3], l:399.3, r:575, t:243, b:379.5, xt: ticksAgeWomen, yt: ticksShapAge, xf:13, xo:14,
  cb:{binary:true, x:577.7, w:3, t:241.7, b:379, a:[1,241.7,0,379], ticks: cbTicksRenal, fmt:".1f", label:"renal_failure", lx:610, ly:313, ls:18, ll:111},
  ylab:[["SHAP value for",343],["age",360]], ylc:307.5, yll:125, xl:["age",482,411.5,18,33]},
 {data: womenAge, ci: 4, xa:[40,715,90,852.7], ya:[0.2,255,-0.4,382], l:691, r:866.7, t:240, b:381, xt: ticksAgeWomen, yt: ticksShapAge, xf:13, xo:14,
  cb:{x:871, w:3.3, t:241.7, b:381, a:[50,242.3,10,376.7], ticks: cbTicksUrea, fmt:"d", label:"urea mg/dL", lx:913, ly:302, ls:17, ll:99},
  ylab:[["SHAP value for",636],["age",653]], ylc:313.5, yll:123, xl:["age",777,411,18,33]},
 {data: menUrea, ci: 2, xa:[0,89.3,160,247.3], ya:[0.4,469,-1.2,599.3], l:86.7, r:263, t:464, b:602, xt: ticksUreaMen, yt: ticksShapUrea, xf:13, xo:13.5,
  cb:{x:272.7, w:3, t:466.7, b:602.7, a:[9,471,1,596.7], ticks: cbTicksCreatMen, fmt:"d", rot:true, label:"creatinine μmol/L", lx:302, ly:532, ls:14, ll:119},
  ylab:[["SHAP value for",26.5],["urea",43.5]], ylc:534.5, yll:105, xl:["urea mg/dL",168,632,14,63]},
 {data: menCreatinine, ci: 2, xa:[0,403.3,160,556.7], ya:[0.5,482,-1.5,582.7], l:398.3, r:565, t:464, b:603.3, xt: ticksCreatMen, yt: ticksShapCreatMen, xf:13, xo:13,
  cb:{x:573.3, w:3.4, t:470, b:603.3, a:[20,475.3,2.5,590], ticks: cbTicksTropMen, fmt:".1f", label:"troponin T ng/L", lx:613, ly:535, ls:15, ll:94},
  ylab:[["SHAP value for",344],["creatinine",361]], ylc:540, yll:113, xl:["creatinine μmol/L",484,633,15,97]},
 {data: menSodium, ci: 2, xa:[120,691.7,145,835], ya:[0.4,482.7,-0.4,594], l:691.7, r:858.3, t:463.3, b:603.3, xt: ticksSodiumMen, yt: ticksShapSodium, xf:13, xo:12.5,
  cb:{x:870, w:3.3, t:466, b:601.7, a:[7.42,482.7,7.32,583.3], ticks: cbTicksPhMen, fmt:".2f", label:"ph", lx:911, ly:531, ls:21},
  ylab:[["SHAP value for",636],["sodium",653]], ylc:533, yll:130, xl:["sodium mEq/L",769,632,14.5,88]},
 {data: menAge, ci: 2, xa:[30,107.3,90,261.7], ya:[0.2,675.3,-0.4,804.7], l:90.7, r:270, t:666.3, b:805.3, xt: ticksAgeMen, yt: ticksShapAge, xf:13, xo:12,
  cb:{x:274, w:3.3, t:671.3, b:805.7, a:[400,693,100,779], ticks: cbTicksCkmb, fmt:"d", label:"creatine kinase mb units/L", lx:311, ly:740, ls:13, ll:133},
  ylab:[["SHAP value for",25],["age",42]], ylc:736.5, yll:123, xl:["age",182,832,18,35]},
 {data: menAge, ci: 3, xa:[30,411.7,90,551.7], ya:[0.2,674,-0.4,804.7], l:398.3, r:565, t:665.7, b:805.3, xt: ticksAgeMen, yt: ticksShapAge, xf:13, xo:13,
  cb:{binary:true, x:575, w:2.7, t:671.3, b:805.7, a:[1,671.3,0,805.7], ticks: cbTicksRenal, fmt:".1f", label:"renal_failure", lx:600, ly:736, ls:18, ll:113},
  ylab:[["SHAP value for",342.5],["age",359.5]], ylc:736, yll:125, xl:["age",483,833,18,35]},
 {data: menAge, ci: 4, xa:[30,705,90,847.3], ya:[0.2,673.7,-0.4,805.7], l:691, r:864.3, t:667, b:806.3, xt: ticksAgeMen, yt: ticksShapAge, xf:13, xo:13,
  cb:{x:871, w:3.3, t:669.7, b:806.3, a:[50,671.3,10,804], ticks: cbTicksUrea, fmt:"d", label:"urea mg/dL", lx:913, ly:735, ls:17, ll:92},
  ylab:[["SHAP value for",639],["age",656]], ylc:738, yll:125, xl:["age",778,833,18,35]}
];
panels.forEach((p, i) => drawPanel(p, p.data, p.ci, i));

// titles
[["For women", 485, 16, 105], ["For men", 486.7, 460, 77]].forEach(([t, x, y, len]) => {
  svg.append("text").attr("x", x).attr("y", y).attr("text-anchor", "middle").attr("dominant-baseline", "central")
    .attr("font-family", FONT).attr("font-weight", "bold").attr("font-size", 21).attr("fill", "#000")
    .attr("textLength", len).attr("lengthAdjust", "spacingAndGlyphs").text(t);
});
</script>
</body></html>
